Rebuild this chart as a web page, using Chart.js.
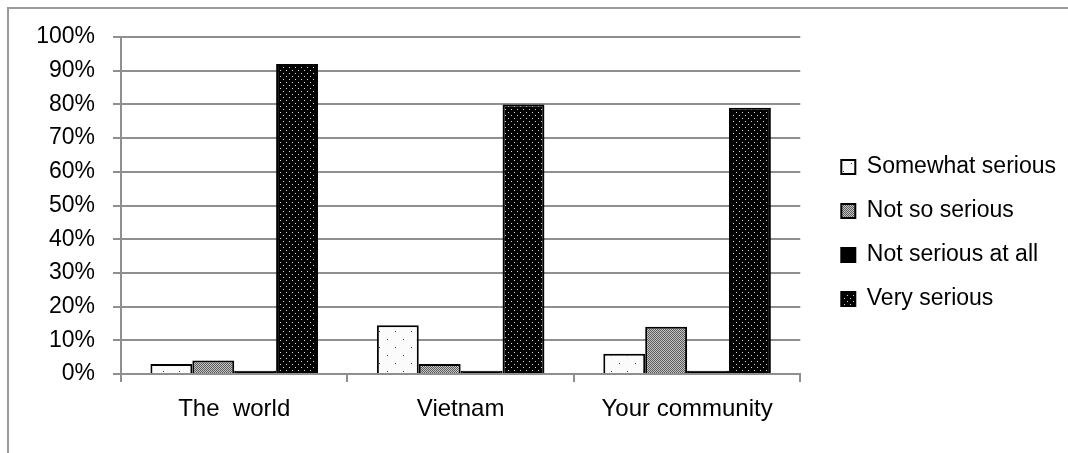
<!DOCTYPE html>
<html>
<head>
<meta charset="utf-8">
<script src="https://cdn.jsdelivr.net/npm/chart.js@4"></script>
<style>
  html, body { margin: 0; padding: 0; background: #fff; overflow: hidden; }
  #wrap { position: relative; width: 1068px; height: 453px; }
  #frame { position: absolute; left: 7px; top: 7px; width: 1200px; height: 600px;
           border-top: 2px solid #9a9a9a; border-left: 2px solid #9a9a9a; }
  #chart { position: absolute; left: 0; top: 0; }
</style>
</head>
<body>
<div id="wrap">
  <div id="frame"></div>
  <canvas id="chart" width="1068" height="453"></canvas>
</div>
<script>
// Survey answers: how serious is the problem, by scope
const categories = ["The  world", "Vietnam", "Your community"];
const somewhatSerious = [3, 14.5, 6];
const notSoSerious = [4, 3, 14];
const notSeriousAtAll = [1, 1, 1];
const verySerious = [92, 80, 79];
const yTicks = [0, 10, 20, 30, 40, 50, 60, 70, 80, 90, 100];

const FONT = "'Liberation Sans', Arial, sans-serif";
const GRID = '#8f8f8f';

// Small repeating fills for the bars
function makePattern(w, h, paint) {
  const c = document.createElement('canvas');
  c.width = w; c.height = h;
  const g = c.getContext('2d');
  paint(g);
  return g.createPattern(c, 'repeat');
}
const sparseDots = makePattern(16, 16, g => {
  g.fillStyle = '#fbfbfb'; g.fillRect(0, 0, 16, 16);
  g.fillStyle = '#444'; g.fillRect(3, 3, 1, 1); g.fillRect(11, 11, 1, 1);
});
const fineChecker = makePattern(2, 2, g => {
  g.fillStyle = '#c4c4c4'; g.fillRect(0, 0, 2, 2);
  g.fillStyle = '#5c5c5c'; g.fillRect(0, 0, 1, 1); g.fillRect(1, 1, 1, 1);
});
const darkDots = makePattern(6, 6, g => {
  g.fillStyle = '#000'; g.fillRect(0, 0, 6, 6);
  g.fillStyle = '#d8d8d8'; g.fillRect(1, 1, 1, 1); g.fillRect(4, 4, 1, 1);
});

// Empty layout box that keeps a gap between the plot and the legend
const legendGap = {
  id: 'legendGap',
  beforeInit(chart) {
    Chart.layouts.addBox(chart, {
      position: 'right', weight: 0, fullSize: false, options: {},
      isHorizontal() { return false; },
      update(maxWidth, maxHeight) { this.width = 20; this.height = maxHeight; },
      draw() {}
    });
  }
};

const ds = (label, data, fill) => ({
  label, data, backgroundColor: fill, borderColor: '#000', borderWidth: 2,
  categoryPercentage: 0.74, barPercentage: 1.0
});

new Chart(document.getElementById('chart'), {
  type: 'bar',
  data: {
    labels: categories,
    datasets: [
      ds('Somewhat serious', somewhatSerious, sparseDots),
      ds('Not so serious', notSoSerious, fineChecker),
      ds('Not serious at all', notSeriousAtAll, '#000'),
      ds('Very serious', verySerious, darkDots)
    ]
  },
  plugins: [legendGap],
  options: {
    responsive: false,
    devicePixelRatio: 1,
    animation: false,
    layout: { padding: { left: 0, top: 37, right: 2, bottom: 24 } },
    plugins: {
      tooltip: { enabled: false },
      legend: {
        position: 'right',
        maxWidth: 400,
        labels: {
          boxWidth: 14, boxHeight: 14, padding: 21, color: '#000',
          font: { family: FONT, size: 23 }
        }
      }
    },
    scales: {
      x: {
        afterFit(s) { s.height = 55; },
        grid: { offset: true, drawOnChartArea: false, drawTicks: true, tickLength: 8, color: GRID, lineWidth: 2 },
        border: { display: true, color: GRID, width: 2 },
        ticks: { color: '#000', padding: 13, font: { family: FONT, size: 24 } }
      },
      y: {
        min: 0, max: 100,
        afterFit(s) { s.width = 121; },
        afterBuildTicks(s) { s.ticks = yTicks.map(v => ({ value: v })); },
        grid: { color: GRID, lineWidth: 2, tickLength: 8 },
        border: { display: true, color: GRID, width: 2 },
        ticks: { color: '#000', padding: 18, font: { family: FONT, size: 23 }, callback: v => v + '%' }
      }
    }
  }
});
</script>
</body>
</html>
